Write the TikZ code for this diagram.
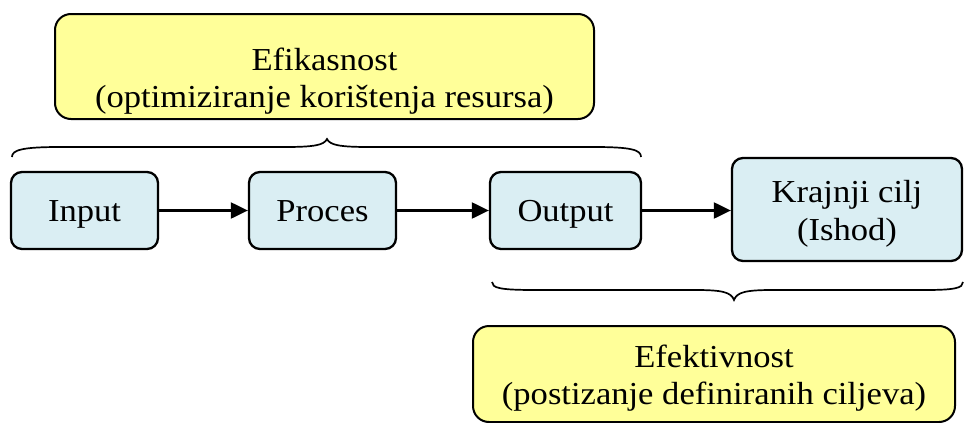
\documentclass[tikz,border=0pt]{standalone}
\usepackage{fontspec}
\setmainfont{Liberation Serif}[FakeStretch=1.08]
\usetikzlibrary{arrows.meta}
\definecolor{boxblue}{HTML}{DAEEF3}
\definecolor{boxyellow}{HTML}{FFFF99}
\newcommand\dropby[2]{\raisebox{-#1}[\height][\depth]{\begin{tabular}{@{}c@{}}#2\end{tabular}}}
\tikzset{
  stepbox/.style={draw=black, line width=2.3pt, rounded corners=11pt, fill=boxblue,
    align=center, inner sep=0pt, font=\fontsize{32}{38}\selectfont},
  notebox/.style={draw=black, line width=2pt, rounded corners=16pt, fill=boxyellow,
    align=center, inner sep=0pt, font=\fontsize{32}{37}\selectfont},
  flow/.style={line width=2.2pt, -{Triangle[length=17pt,width=16pt]}},
  bracep/.style={line width=1.7pt}
}
\begin{document}
\begin{tikzpicture}[x=1pt,y=-1pt]
\useasboundingbox (0,0) rectangle (964,423);
\node[notebox, minimum width=539pt, minimum height=105pt] (eff) at (324.5,66.5) {\dropby{15pt}{Efikasnost\\(optimiziranje korištenja resursa)}};
\node[notebox, minimum width=482pt, minimum height=96pt] (efk) at (714,374) {\dropby{5pt}{Efektivnost\\(postizanje definiranih ciljeva)}};
\node[stepbox, minimum width=147pt, minimum height=77pt] (in) at (84.5,210.5) {\dropby{3pt}{Input}};
\node[stepbox, minimum width=147pt, minimum height=77pt] (pr) at (322.5,210.5) {\dropby{3pt}{Proces}};
\node[stepbox, minimum width=151pt, minimum height=77pt] (out) at (565.5,210.5) {\dropby{3pt}{Output}};
\node[stepbox, minimum width=230pt, minimum height=103pt] (cilj) at (847,209.5) {\dropby{4pt}{Krajnji cilj\\(Ishod)}};
\draw[flow] (in) -- (pr);
\draw[flow] (pr) -- (out);
\draw[flow] (out.east) -- (cilj.west |- out.east);
% top brace
\coordinate (tl) at (12,157);
\coordinate (tt) at (327,139);
\coordinate (tr) at (641,157);
\draw[bracep] (tl) .. controls (12,150) and (22,147) .. (60,147) -- (285,147)
  .. controls (315,147) and (324,145) .. (tt)
  .. controls (330,145) and (339,147) .. (369,147) -- (594,147)
  .. controls (632,147) and (641,150) .. (tr);
% bottom brace
\coordinate (bl) at (492,282);
\coordinate (bt) at (734,300);
\coordinate (br) at (963,282);
\draw[bracep] (bl) .. controls (492,288) and (500,290) .. (535,290) -- (695,290)
  .. controls (722,290) and (731,292) .. (bt)
  .. controls (737,292) and (746,290) .. (773,290) -- (925,290)
  .. controls (955,290) and (963,288) .. (br);
\end{tikzpicture}
\end{document}
